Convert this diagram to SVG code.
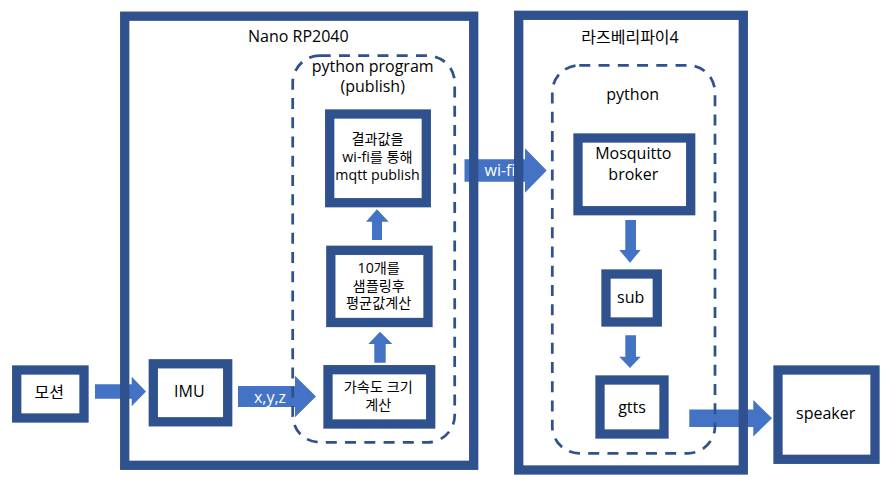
<svg xmlns="http://www.w3.org/2000/svg" width="892" height="486" viewBox="0 0 892 486">
<style>
.box{fill:none;stroke:#2F528F;stroke-width:9.3}
.dash{fill:none;stroke:#2F528F;stroke-width:2.75;stroke-dasharray:11 8.25}
.arr{fill:#4472C4}
text{font-family:"Open Sans","Noto Sans CJK KR",sans-serif;font-size:16px;fill:#000;text-anchor:middle}
.sm{font-size:14.2px}
.wt{fill:#fff}
</style>
<rect width="892" height="486" fill="#fff"/>
<g id="connectors">
<path class="arr" d="M95,384.3H131.7V376.8L146,391.5L131.7,406.2V398.7H95Z"/>
<path class="arr" d="M238,386H295V375.8L316,396.5L295,417.2V407H238Z"/>
<text class="wt" x="270" y="402.7">x,y,z</text>
<path class="arr" d="M372,240V221.7H366L377,209.3L388.7,221.7H382V240Z"/>
<path class="arr" d="M374.3,362.7V344H368.3L380,331.7L392.3,344H385.7V362.7Z"/>
<path class="arr" d="M464.5,159.3H525V148.3L546.7,170.5L525,192.7V181.7H464.5Z"/>
<text class="wt" x="500" y="175.7">wi-fi</text>
<path class="arr" d="M625.3,220H636V250H640.7L630,262.7L619.3,250H625.3Z"/>
<path class="arr" d="M625.3,335.3H636V356.7H640.7L630,368L619.3,356.7H625.3Z"/>
<path class="arr" d="M689.3,409.4H753.3V400L772,418.2L753.3,436.6V427H689.3Z"/>
</g>
<g id="motion">
<rect class="box" x="16.7" y="370" width="67.3" height="48"/>
<text x="49.3" y="398.3">모션</text>
</g>
<g id="nano">
<rect class="box" x="124.7" y="16.2" width="349" height="449.1"/>
<text x="298.3" y="41.7">Nano RP2040</text>
</g>
<g id="imu">
<rect class="box" x="153.3" y="363.8" width="74.4" height="58"/>
<text x="189.3" y="397.3">IMU</text>
</g>
<g id="python-program">
<rect class="dash" x="292.7" y="55.7" width="162" height="386.6" rx="27" ry="27"/>
<text x="372.7" y="71.7">python program<tspan x="372.7" dy="20">(publish)</tspan></text>
</g>
<g id="publish">
<rect class="box" x="329.7" y="114" width="96.6" height="88.7"/>
<text class="sm" x="377.5" y="144">결과값을<tspan x="377.5" dy="18">wi-fi를 통해</tspan><tspan x="377.5" dy="17.5">mqtt publish</tspan></text>
</g>
<g id="average">
<rect class="box" x="330.8" y="250.3" width="97.2" height="72.2"/>
<text class="sm" x="378.7" y="273.3">10개를<tspan x="378.7" dy="17.4">샘플링후</tspan><tspan x="378.7" dy="17.6">평균값계산</tspan></text>
</g>
<g id="accel">
<rect class="box" x="328" y="369.7" width="102.7" height="54.3"/>
<text class="sm" x="378.3" y="392.3">가속도 크기<tspan x="378.3" dy="17.7">계산</tspan></text>
</g>
<g id="raspberry">
<rect class="box" x="518.7" y="15.3" width="224.6" height="454.7"/>
<text x="630" y="42.7">라즈베리파이4</text>
</g>
<g id="python">
<rect class="dash" x="552.3" y="65.3" width="162.7" height="388" rx="27" ry="27"/>
<text x="632.7" y="100">python</text>
</g>
<g id="broker">
<rect class="box" x="578" y="138" width="112.7" height="72.7"/>
<text x="633.3" y="159">Mosquitto<tspan x="633.3" dy="21">broker</tspan></text>
</g>
<g id="sub">
<rect class="box" x="606" y="274" width="51.3" height="48"/>
<text x="630.7" y="302.7">sub</text>
</g>
<g id="gtts">
<rect class="box" x="600" y="380" width="64" height="54"/>
<text x="632" y="412.7">gtts</text>
</g>
<g id="speaker">
<rect class="box" x="778" y="370" width="97" height="89.3"/>
<text x="825.7" y="419.3">speaker</text>
</g>
</svg>
